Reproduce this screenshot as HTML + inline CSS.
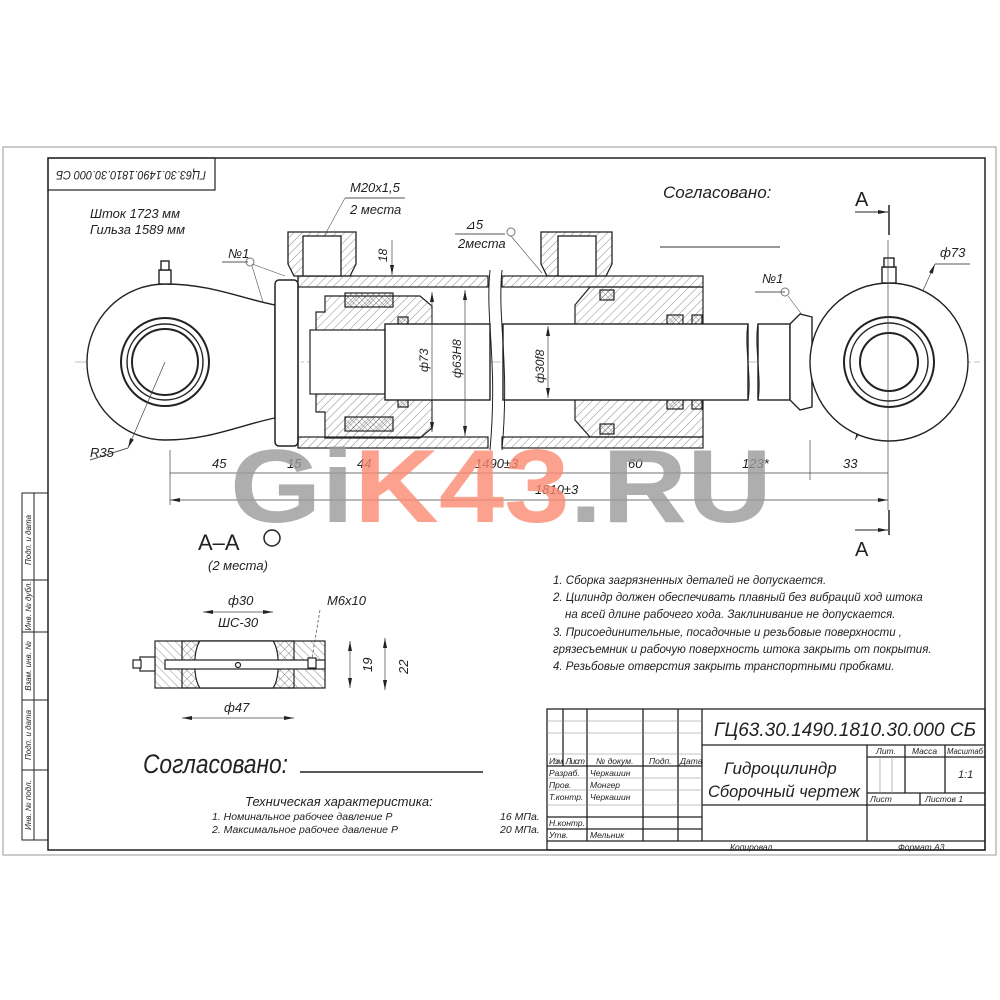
<!DOCTYPE html>
<html><head><meta charset="utf-8"><style>
html,body{margin:0;padding:0;background:#fff}
svg{display:block}
text{font-family:"Liberation Sans","DejaVu Sans",sans-serif;font-style:italic;fill:#222}
text.up{font-style:normal}
</style></head><body>
<svg width="1000" height="1000" viewBox="0 0 1000 1000" xmlns="http://www.w3.org/2000/svg">
<defs>
<pattern id="h" width="6" height="6" patternUnits="userSpaceOnUse" patternTransform="rotate(45)"><line x1="0" y1="0" x2="0" y2="6" stroke="#555" stroke-width="0.7"/></pattern>
<pattern id="h2" width="6" height="6" patternUnits="userSpaceOnUse" patternTransform="rotate(-45)"><line x1="0" y1="0" x2="0" y2="6" stroke="#555" stroke-width="0.7"/></pattern>
<pattern id="x" width="4" height="4" patternUnits="userSpaceOnUse" patternTransform="rotate(45)"><path d="M0 0V4M0 0H4" stroke="#333" stroke-width="0.6"/></pattern>
<marker id="a" viewBox="0 0 10 6" refX="10" refY="3" markerWidth="10" markerHeight="6" orient="auto-start-reverse" markerUnits="userSpaceOnUse"><path d="M0 1L10 3L0 5z" fill="#222"/></marker>
</defs>
<!-- frames -->
<rect x="3" y="147" width="993" height="708" fill="none" stroke="#999" stroke-width="1"/>
<rect x="48" y="158" width="937" height="692" fill="none" stroke="#222" stroke-width="1.5"/>
<rect x="48" y="158" width="167" height="32" fill="none" stroke="#222" stroke-width="1.2"/>
<text transform="translate(131,174) rotate(180)" font-size="12" text-anchor="middle" dominant-baseline="middle" textLength="150" lengthAdjust="spacingAndGlyphs">ГЦ63.30.1490.1810.30.000 СБ</text>
<!-- left strip -->
<g stroke="#222" fill="none" stroke-width="1">
<rect x="22" y="493" width="26" height="347"/>
<line x1="34" y1="493" x2="34" y2="840"/>
<line x1="22" y1="580" x2="48" y2="580"/><line x1="22" y1="632" x2="48" y2="632"/>
<line x1="22" y1="700" x2="48" y2="700"/><line x1="22" y1="770" x2="48" y2="770"/>
</g>
<g font-size="8">
<text transform="translate(31,540) rotate(-90)" text-anchor="middle">Подп. и дата</text>
<text transform="translate(31,606) rotate(-90)" text-anchor="middle">Инв. № дубл.</text>
<text transform="translate(31,666) rotate(-90)" text-anchor="middle">Взам. инв. №</text>
<text transform="translate(31,735) rotate(-90)" text-anchor="middle">Подп. и дата</text>
<text transform="translate(31,805) rotate(-90)" text-anchor="middle">Инв. № подл.</text>
</g>
<!-- top texts -->
<text x="90" y="218" font-size="13">Шток 1723 мм</text>
<text x="90" y="234" font-size="13">Гильза 1589 мм</text>
<text x="350" y="192" font-size="13">М20х1,5</text>
<text x="350" y="214" font-size="13">2 места</text>
<line x1="345" y1="198" x2="405" y2="198" stroke="#555"/>
<line x1="345" y1="198" x2="322" y2="240" stroke="#555" stroke-width="0.6"/>
<text x="465" y="229" font-size="13">⊿5</text>
<text x="458" y="248" font-size="13">2места</text>
<line x1="455" y1="234" x2="505" y2="234" stroke="#555"/>
<circle cx="511" cy="232" r="4" fill="none" stroke="#777"/>
<line x1="511" y1="236" x2="542" y2="273" stroke="#555" stroke-width="0.6"/>
<text x="663" y="198" font-size="17">Согласовано:</text>
<line x1="660" y1="247" x2="780" y2="247" stroke="#333"/>
<text x="855" y="206" font-size="20" class="up">А</text>
<line x1="855" y1="212" x2="888" y2="212" stroke="#222" marker-end="url(#a)"/>
<line x1="889" y1="205" x2="889" y2="235" stroke="#222" stroke-width="1.5"/>
<text x="855" y="556" font-size="20" class="up">А</text>
<line x1="855" y1="530" x2="888" y2="530" stroke="#222" marker-end="url(#a)"/>
<line x1="889" y1="510" x2="889" y2="535" stroke="#222" stroke-width="1.5"/>
<text x="228" y="258" font-size="13">№1</text>
<line x1="222" y1="262" x2="248" y2="262" stroke="#555"/>
<circle cx="250" cy="262" r="4" fill="none" stroke="#777"/>
<line x1="252" y1="266" x2="273" y2="335" stroke="#555" stroke-width="0.6"/>
<line x1="252" y1="264" x2="285" y2="276" stroke="#555" stroke-width="0.6"/>
<text x="762" y="283" font-size="13">№1</text>
<line x1="755" y1="292" x2="785" y2="292" stroke="#555"/>
<circle cx="785" cy="292" r="4" fill="none" stroke="#777"/>
<line x1="788" y1="296" x2="803" y2="316" stroke="#555" stroke-width="0.6"/>
<text x="940" y="257" font-size="13">ф73</text>
<line x1="935" y1="264" x2="970" y2="264" stroke="#555"/>
<line x1="935" y1="264" x2="855" y2="440" stroke="#444" stroke-width="0.7" marker-start="url(#a)" marker-end="url(#a)"/>
<!-- centerline -->
<line x1="75" y1="362" x2="980" y2="362" stroke="#888" stroke-width="0.6" stroke-dasharray="20 3 3 3"/>
<!-- left eye -->
<g stroke="#222" fill="#fff" stroke-width="1.4">
<path d="M165 284 A78 78 0 1 0 165 440 C210 440 240 425 275 418 L275 305 C240 298 210 284 165 284Z"/>
<circle cx="165" cy="362" r="44" fill="none" stroke-width="2"/>
<circle cx="165" cy="362" r="38" fill="none"/>
<circle cx="165" cy="362" r="33" fill="none" stroke-width="2"/>
<rect x="159" y="270" width="12" height="14"/><rect x="161" y="261" width="8" height="9"/>
</g>
<line x1="165" y1="362" x2="128" y2="448" stroke="#444" stroke-width="0.7" marker-end="url(#a)"/>
<line x1="128" y1="448" x2="90" y2="460" stroke="#555"/>
<text x="90" y="457" font-size="13">R35</text>
<!-- flange -->
<rect x="275" y="280" width="23" height="166" rx="4" fill="#fff" stroke="#222" stroke-width="1.5"/>
<!-- tube walls -->
<g stroke="#222" stroke-width="1.2">
<rect x="298" y="276" width="190" height="11" fill="url(#h)"/>
<rect x="298" y="437" width="190" height="11" fill="url(#h)"/>
<rect x="502" y="276" width="201" height="11" fill="url(#h)"/>
<rect x="502" y="437" width="201" height="11" fill="url(#h)"/>
<line x1="298" y1="276" x2="298" y2="448"/>
</g>
<!-- ports -->
<g stroke="#222" stroke-width="1.3">
<path d="M288 232H356V264L350 276H294L288 264Z" fill="url(#h)"/>
<rect x="303" y="236" width="38" height="40" fill="#fff"/>
<path d="M541 232H612V264L606 276H547L541 264Z" fill="url(#h)"/>
<rect x="558" y="236" width="38" height="40" fill="#fff"/>
</g>
<!-- piston -->
<g stroke="#222" stroke-width="1.2">
<path d="M325 296H420L432 306V428L420 438H325V412H316V312H325Z" fill="url(#h)"/>
<rect x="345" y="293" width="48" height="14" fill="url(#x)"/>
<rect x="345" y="417" width="48" height="14" fill="url(#x)"/>
<rect x="398" y="317" width="10" height="8" fill="url(#x)"/>
<rect x="398" y="399" width="10" height="8" fill="url(#x)"/>
<rect x="310" y="330" width="75" height="64" fill="#fff"/>
<path d="M575 305L590 287H703V437H590L575 420Z" fill="url(#h)"/>
<rect x="600" y="290" width="14" height="10" fill="url(#x)"/>
<rect x="600" y="424" width="14" height="10" fill="url(#x)"/>
<rect x="667" y="315" width="16" height="10" fill="url(#x)"/><rect x="692" y="315" width="10" height="10" fill="url(#x)"/>
<rect x="667" y="399" width="16" height="10" fill="url(#x)"/><rect x="692" y="399" width="10" height="10" fill="url(#x)"/>
</g>
<!-- rod -->
<g stroke="#222" stroke-width="1.4" fill="#fff">
<rect x="385" y="324" width="105" height="76"/>
<rect x="503" y="324" width="245" height="76"/>
<rect x="758" y="324" width="32" height="76"/>
<path d="M790 324L800 314L812 317V407L800 410L790 400Z"/>
</g>
<path d="M490 270C485 320 498 360 490 450M502 270C497 320 510 360 502 450" stroke="#222" fill="none"/>
<path d="M748 324C744 345 752 380 748 400M758 324C754 345 762 380 758 400" stroke="#222" fill="none"/>
<!-- right eye -->
<g stroke="#222" fill="#fff" stroke-width="1.4">
<circle cx="889" cy="362" r="79"/>
<circle cx="889" cy="362" r="45" fill="none" stroke-width="2"/>
<circle cx="889" cy="362" r="39" fill="none"/>
<circle cx="889" cy="362" r="29" fill="none" stroke-width="2"/>
<rect x="882" y="267" width="14" height="16"/><rect x="884" y="258" width="10" height="9"/>
</g>
<!-- inner dims -->
<g stroke="#444" stroke-width="0.7">
<line x1="432" y1="292" x2="432" y2="432" marker-start="url(#a)" marker-end="url(#a)"/>
<line x1="465" y1="290" x2="465" y2="436" marker-start="url(#a)" marker-end="url(#a)"/>
<line x1="548" y1="326" x2="548" y2="398" marker-start="url(#a)" marker-end="url(#a)"/>
<line x1="392" y1="240" x2="392" y2="275" marker-end="url(#a)"/>
</g>
<text transform="translate(428,372) rotate(-90)" font-size="12">ф73</text>
<text transform="translate(461,378) rotate(-90)" font-size="12">ф63Н8</text>
<text transform="translate(544,383) rotate(-90)" font-size="12">ф30f8</text>
<text transform="translate(387,262) rotate(-90)" font-size="12">18</text>
<!-- bottom dims -->
<g stroke="#444" stroke-width="0.7">
<line x1="170" y1="473" x2="888" y2="473"/>
<line x1="170" y1="500" x2="888" y2="500" marker-start="url(#a)" marker-end="url(#a)"/>
<line x1="170" y1="450" x2="170" y2="505"/>
<line x1="810" y1="440" x2="810" y2="480"/>
<line x1="888" y1="240" x2="888" y2="510"/>
</g>
<g font-size="13">
<text x="212" y="468">45</text><text x="287" y="468">15</text><text x="357" y="468">44</text>
<text x="475" y="468">1490±3</text><text x="628" y="468">60</text><text x="742" y="468">123*</text>
<text x="843" y="468">33</text><text x="535" y="494">1810±3</text>
</g>
<!-- watermark -->
<text class="up" x="230" y="522" font-size="104" font-weight="bold" style="fill:#9a9a9a;fill-opacity:0.8" textLength="542" lengthAdjust="spacingAndGlyphs">Gi<tspan style="fill:#fb8a70;fill-opacity:0.8">K43</tspan>.RU</text>
<!-- section A-A -->
<text class="up" x="198" y="550" font-size="22">А–А</text>
<circle cx="272" cy="538" r="8" fill="none" stroke="#222" stroke-width="1.5"/>
<text x="208" y="570" font-size="13">(2 места)</text>
<g stroke="#222" stroke-width="1.2">
<rect x="155" y="641" width="170" height="47" fill="url(#h2)"/>
<rect x="182" y="641" width="112" height="47" fill="url(#h)"/>
<path d="M200 641H273C280 650 280 679 273 688H200C193 679 193 650 200 641Z" fill="#fff"/>
<rect x="165" y="660" width="160" height="9" fill="#fff"/>
<rect x="140" y="657" width="15" height="14" fill="#fff"/><rect x="133" y="660" width="8" height="8" fill="#fff"/>
<circle cx="238" cy="665" r="2.5" fill="#fff"/>
<rect x="308" y="658" width="8" height="10" fill="#fff"/>
</g>
<g stroke="#444" stroke-width="0.7">
<line x1="203" y1="612" x2="273" y2="612" marker-start="url(#a)" marker-end="url(#a)"/>
<line x1="182" y1="718" x2="294" y2="718" marker-start="url(#a)" marker-end="url(#a)"/>
<line x1="350" y1="641" x2="350" y2="688" marker-start="url(#a)" marker-end="url(#a)"/>
<line x1="385" y1="638" x2="385" y2="690" marker-start="url(#a)" marker-end="url(#a)"/>
<line x1="320" y1="610" x2="312" y2="658" stroke-dasharray="3 2"/>
</g>
<g font-size="13"><text x="228" y="605">ф30</text><text x="218" y="627">ШС-30</text><text x="224" y="712">ф47</text><text x="327" y="605">М6х10</text></g>
<text transform="translate(372,672) rotate(-90)" font-size="13">19</text>
<text transform="translate(408,674) rotate(-90)" font-size="13">22</text>
<text x="143" y="773" font-size="27" textLength="145" lengthAdjust="spacingAndGlyphs">Согласовано:</text>
<line x1="300" y1="772" x2="483" y2="772" stroke="#222" stroke-width="1.4"/>
<text x="245" y="806" font-size="13">Техническая характеристика:</text>
<text x="212" y="820" font-size="10.5">1. Номинальное рабочее давление   Р</text>
<text x="212" y="833" font-size="10.5">2. Максимальное рабочее давление Р</text>
<text x="500" y="820" font-size="10.5">16 МПа.</text>
<text x="500" y="833" font-size="10.5">20 МПа.</text>
<!-- notes -->
<g font-size="11.5">
<text x="553" y="584">1. Сборка загрязненных деталей не допускается.</text>
<text x="553" y="601">2. Цилиндр должен обеспечивать плавный без вибраций ход штока</text>
<text x="565" y="618">на всей длине рабочего хода. Заклинивание не допускается.</text>
<text x="553" y="636">3. Присоединительные, посадочные и резьбовые поверхности ,</text>
<text x="553" y="653">грязесъемник и рабочую поверхность штока закрыть от покрытия.</text>
<text x="553" y="670">4. Резьбовые отверстия закрыть транспортными пробками.</text>
</g>
<!-- title block -->
<g stroke="#222" fill="none" stroke-width="1.3">
<rect x="547" y="709" width="438" height="141"/>
<line x1="702" y1="709" x2="702" y2="841"/>
<line x1="702" y1="745" x2="985" y2="745"/>
<line x1="702" y1="805" x2="985" y2="805"/>
<line x1="867" y1="745" x2="867" y2="841"/>
<line x1="867" y1="757" x2="985" y2="757"/>
<line x1="867" y1="793" x2="985" y2="793"/>
<line x1="905" y1="745" x2="905" y2="793"/><line x1="945" y1="745" x2="945" y2="793"/>
<line x1="920" y1="793" x2="920" y2="805"/>
<line x1="547" y1="841" x2="985" y2="841"/>
<line x1="563" y1="709" x2="563" y2="766"/><line x1="587" y1="709" x2="587" y2="841"/>
<line x1="643" y1="709" x2="643" y2="841"/><line x1="678" y1="709" x2="678" y2="841"/>
<line x1="547" y1="766" x2="702" y2="766"/>
<line x1="547" y1="817" x2="702" y2="817"/><line x1="547" y1="829" x2="702" y2="829"/>
</g>
<g stroke="#888" stroke-width="0.6"><line x1="547" y1="721" x2="702" y2="721"/><line x1="547" y1="733" x2="702" y2="733"/><line x1="547" y1="754" x2="702" y2="754"/><line x1="547" y1="778" x2="702" y2="778"/><line x1="547" y1="790" x2="702" y2="790"/><line x1="547" y1="805" x2="702" y2="805"/>
<line x1="880" y1="757" x2="880" y2="793"/><line x1="892" y1="757" x2="892" y2="793"/></g>
<text x="714" y="736" font-size="19" textLength="262" lengthAdjust="spacingAndGlyphs">ГЦ63.30.1490.1810.30.000 СБ</text>
<text x="724" y="774" font-size="17">Гидроцилиндр</text>
<text x="708" y="797" font-size="17" textLength="152" lengthAdjust="spacingAndGlyphs">Сборочный чертеж</text>
<g font-size="8.5">
<text x="549" y="764" textLength="36">Изм. Лист</text><text x="596" y="764">№ докум.</text><text x="649" y="764">Подп.</text><text x="680" y="764">Дата</text>
<text x="549" y="776">Разраб.</text><text x="590" y="776">Черкашин</text>
<text x="549" y="788">Пров.</text><text x="590" y="788">Монгер</text>
<text x="549" y="800">Т.контр.</text><text x="590" y="800">Черкашин</text>
<text x="549" y="826">Н.контр.</text>
<text x="549" y="838">Утв.</text><text x="590" y="838">Мельник</text>
<text x="876" y="754">Лит.</text><text x="912" y="754">Масса</text><text x="947" y="754" textLength="36" lengthAdjust="spacingAndGlyphs">Масштаб</text>
<text x="870" y="802">Лист</text><text x="925" y="802">Листов   1</text>
<text x="730" y="850">Копировал</text><text x="898" y="850">Формат    А3</text>
</g>
<text x="958" y="778" font-size="11">1:1</text>
</svg>
</body></html>
